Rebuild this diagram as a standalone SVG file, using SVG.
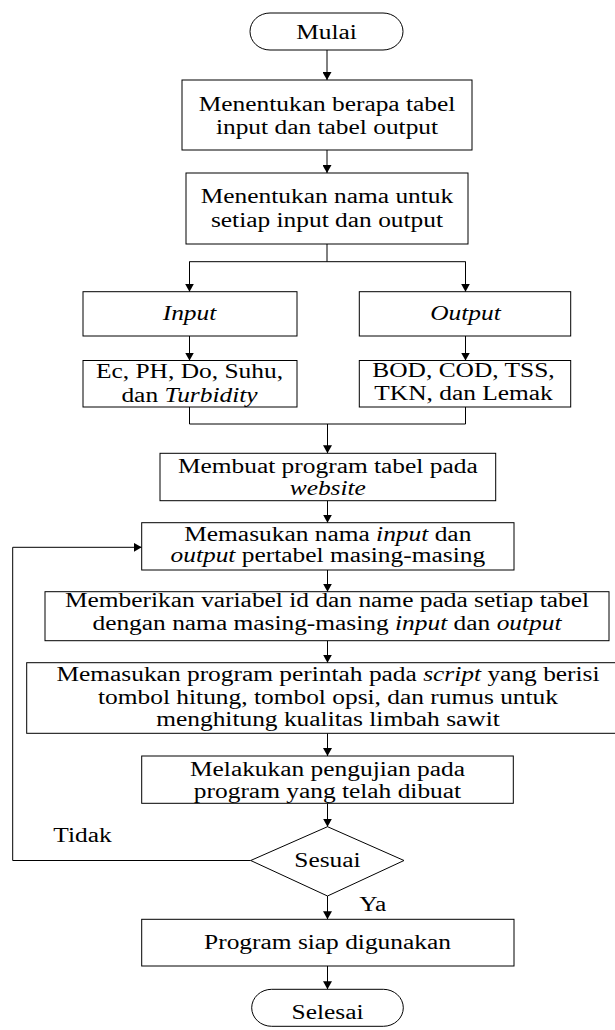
<svg xmlns="http://www.w3.org/2000/svg" width="615" height="1030" viewBox="0 0 615 1030">
<style>
.box{fill:#fff;stroke:#000;stroke-width:1}
.t{font-family:"Liberation Serif","Times New Roman",serif;font-size:20px;fill:#000;text-anchor:middle}
.s{text-anchor:start}
.i{font-style:italic}
.c{fill:none;stroke:#000;stroke-width:1}
</style>
<defs>
<marker id="ah" viewBox="0 0 8 9" refX="8" refY="4.5" markerWidth="8" markerHeight="9" markerUnits="userSpaceOnUse" orient="auto"><path d="M0,0 L8,4.5 L0,9 z" fill="#000"/></marker>
</defs>
<rect width="615" height="1030" fill="#fff"/>
<g id="connectors">
<path class="c" d="M327,50 V80" marker-end="url(#ah)"/>
<path class="c" d="M327,150 V173" marker-end="url(#ah)"/>
<path class="c" d="M327,244 V261.7 M189.5,291.7 V261.7 H465.5 V291.7"/>
<path class="c" d="M189.5,261.7 V291.7" marker-end="url(#ah)"/>
<path class="c" d="M465.5,261.7 V291.7" marker-end="url(#ah)"/>
<path class="c" d="M189.5,336 V360.5" marker-end="url(#ah)"/>
<path class="c" d="M465.5,336 V360.5" marker-end="url(#ah)"/>
<path class="c" d="M189.5,407 V424 H465.5 V407"/>
<path class="c" d="M327.5,424 V453.3" marker-end="url(#ah)"/>
<path class="c" d="M327.5,500.7 V522.7" marker-end="url(#ah)"/>
<path class="c" d="M327.5,570 V591.7" marker-end="url(#ah)"/>
<path class="c" d="M327.5,640.7 V662.7" marker-end="url(#ah)"/>
<path class="c" d="M327.5,733.3 V756" marker-end="url(#ah)"/>
<path class="c" d="M327.5,803.3 V826.7" marker-end="url(#ah)"/>
<path class="c" d="M327.5,896 V919.3" marker-end="url(#ah)"/>
<path class="c" d="M327.5,966 V989.3" marker-end="url(#ah)"/>
<path class="c" d="M250.7,860.5 H12.7 V547.3 H141.7" marker-end="url(#ah)"/>
<text class="t s" transform="translate(53.3 0) scale(1.27 1)" x="0" y="841.7">Tidak</text>
<text class="t s" transform="translate(359.3 0) scale(1.27 1)" x="0" y="910.7">Ya</text>
</g>
<g id="mulai">
<rect class="box" x="250" y="13" width="153" height="37" rx="20" ry="18.5"/>
<text class="t" transform="translate(326.5 0) scale(1.27 1)" x="0" y="39">Mulai</text>
</g>
<g id="tabel">
<rect class="box" x="182" y="80" width="290" height="70"/>
<text class="t" transform="translate(327 0) scale(1.27 1)"><tspan x="0" y="111">Menentukan berapa tabel</tspan><tspan x="0" y="134">input dan tabel output</tspan></text>
</g>
<g id="nama">
<rect class="box" x="186" y="173" width="282" height="71"/>
<text class="t" transform="translate(327 0) scale(1.27 1)"><tspan x="0" y="203.3">Menentukan nama untuk</tspan><tspan x="0" y="226.7">setiap input dan output</tspan></text>
</g>
<g id="input">
<rect class="box" x="83" y="291.7" width="214" height="44.3"/>
<text class="t i" transform="translate(189.5 0) scale(1.27 1)" x="0" y="320">Input</text>
</g>
<g id="output">
<rect class="box" x="359.3" y="291.7" width="211.4" height="44.3"/>
<text class="t i" transform="translate(465.5 0) scale(1.27 1)" x="0" y="320">Output</text>
</g>
<g id="input-list">
<rect class="box" x="83" y="360.5" width="214" height="46.5"/>
<text class="t" transform="translate(189.5 0) scale(1.27 1)"><tspan x="0" y="378.3">Ec, PH, Do, Suhu,</tspan><tspan x="0" y="401.7">dan <tspan class="i">Turbidity</tspan></tspan></text>
</g>
<g id="output-list">
<rect class="box" x="359.3" y="360.5" width="211.4" height="46.5"/>
<text class="t" transform="translate(463.5 0) scale(1.27 1)"><tspan x="0" y="377.5">BOD, COD, TSS,</tspan><tspan x="0" y="400.5">TKN, dan Lemak</tspan></text>
</g>
<g id="membuat">
<rect class="box" x="160" y="453.3" width="335.7" height="47.4"/>
<text class="t" transform="translate(327.8 0) scale(1.27 1)"><tspan x="0" y="473.3">Membuat program tabel pada</tspan><tspan x="0" y="495" class="i">website</tspan></text>
</g>
<g id="memasukan-nama">
<rect class="box" x="141.7" y="522.7" width="372.3" height="47.3"/>
<text class="t" transform="translate(327.8 0) scale(1.27 1)"><tspan x="0" y="540.7">Memasukan nama <tspan class="i">input</tspan> dan</tspan><tspan x="0" y="562.5"><tspan class="i">output</tspan>  pertabel  masing-masing</tspan></text>
</g>
<g id="memberikan">
<rect class="box" x="45" y="591.7" width="564" height="49"/>
<text class="t" transform="translate(327 0) scale(1.27 1)"><tspan x="0" y="606.7">Memberikan variabel id dan name pada setiap tabel</tspan><tspan x="0" y="630">dengan nama masing-masing <tspan class="i">input</tspan> dan <tspan class="i">output</tspan></tspan></text>
</g>
<g id="program">
<rect class="box" x="26.7" y="662.7" width="603" height="70.6"/>
<text class="t" transform="translate(328 0) scale(1.27 1)"><tspan x="0" y="681">Memasukan program perintah pada <tspan class="i">script</tspan> yang berisi</tspan><tspan x="0" y="704">tombol hitung, tombol opsi, dan rumus untuk</tspan><tspan x="0" y="726.5">menghitung kualitas limbah sawit</tspan></text>
</g>
<g id="pengujian">
<rect class="box" x="141.7" y="756" width="371.6" height="47.3"/>
<text class="t" transform="translate(327.5 0) scale(1.27 1)"><tspan x="0" y="776.5">Melakukan pengujian pada</tspan><tspan x="0" y="798">program yang telah dibuat</tspan></text>
</g>
<g id="sesuai">
<path class="box" d="M327.5,826.7 L404,860.5 L327.5,896 L250.7,860.5 Z"/>
<text class="t" transform="translate(327.5 0) scale(1.27 1)" x="0" y="866.7">Sesuai</text>
</g>
<g id="siap">
<rect class="box" x="141.7" y="919.3" width="372.3" height="46.7"/>
<text class="t" transform="translate(327.5 0) scale(1.27 1)" x="0" y="949.3">Program siap digunakan</text>
</g>
<g id="selesai">
<rect class="box" x="251.7" y="989.3" width="151.6" height="37" rx="20" ry="18.5"/>
<text class="t" transform="translate(327.5 0) scale(1.27 1)" x="0" y="1019.3">Selesai</text>
</g>
</svg>
